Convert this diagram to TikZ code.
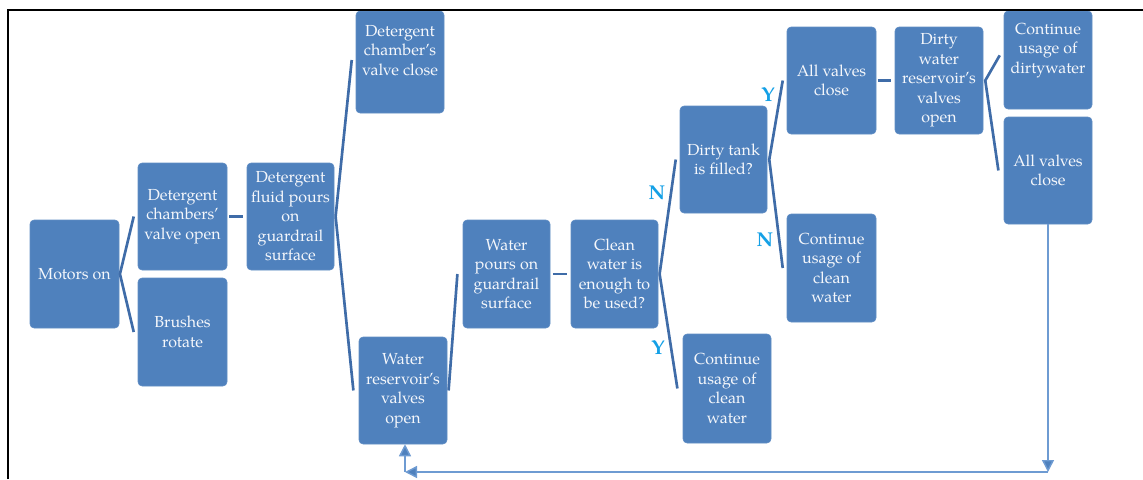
\documentclass[tikz,border=0pt]{standalone}
\usepackage{fontspec}
\setmainfont{TeX Gyre Pagella}
\usetikzlibrary{arrows.meta}
\definecolor{boxblue}{RGB}{79,129,189}
\definecolor{connblue}{RGB}{63,108,168}
\definecolor{lblblue}{RGB}{20,160,230}
\definecolor{fbblue}{RGB}{110,155,210}
\tikzset{
  bx/.style 2 args={rectangle, rounded corners=3pt, fill=boxblue, draw=boxblue!90!white, line width=0.4pt,
    text=white!94!boxblue, align=center, inner sep=0pt,
    font=\fontsize{12}{14.6}\selectfont,
    minimum width=#1*0.75pt, minimum height=#2*0.75pt},
  conn/.style={draw=connblue, line width=2pt},
  dashc/.style={draw=connblue, line width=2.2pt},
  lbl/.style={text=lblblue, font=\fontsize{15}{15}\selectfont\bfseries, inner sep=0pt},
  fb/.style={draw=fbblue, line width=1.1pt, -{Triangle[length=9pt,width=9pt,fill=boxblue]}},
}
\begin{document}
\begin{tikzpicture}[x=0.75pt,y=-0.75pt]
\useasboundingbox (0,0) rectangle (1143,479);
% boxes
\node[bx={89}{108}] (motors) at (74.5,274) {Motors on};
\node[bx={89}{107}] (detopen) at (182.5,216.5) {Detergent\\chambers'\\valve open};
\node[bx={89}{108}] (brushes) at (182.5,332) {Brushes\\rotate};
\node[bx={87}{107}] (detfluid) at (290.5,216.5) {Detergent\\fluid pours\\on\\guardrail\\surface};
\node[bx={88}{102}] (detclose) at (400,62) {Detergent\\chamber's\\valve close\\[3pt]};
\node[bx={88}{107}] (waterres) at (403,390.5) {Water\\reservoir's\\valves\\open};
\node[bx={87}{108}] (waterpours) at (506.5,274) {Water\\pours on\\guardrail\\surface};
\node[bx={87}{108}] (clean) at (614.5,274) {Clean\\water is\\enough to\\be used?};
\node[bx={87}{107}] (dirtytank) at (723.5,159.5) {Dirty tank\\is filled?};
\node[bx={88}{109}] (contclean1) at (727,388.5) {Continue\\usage of\\clean\\water};
\node[bx={89}{107}] (allclose1) at (831.5,80.5) {All valves\\close};
\node[bx={89}{108}] (contclean2) at (831.5,268) {Continue\\usage of\\clean\\water};
\node[bx={88}{107}] (dirtyres) at (939,80.5) {Dirty\\water\\reservoir's\\valves\\open};
\node[bx={88}{98}] (contdirty) at (1048,60) {Continue\\usage of\\dirtywater\\[3pt]};
\node[bx={88}{107}] (allclose2) at (1048,170.5) {All valves\\close};
% branch connectors
\draw[conn] ([xshift=-3pt]detopen.west) -- ([xshift=0.5pt]motors.east) -- ([xshift=-3pt]brushes.west);
\draw[conn] ([xshift=-3pt,yshift=1.5pt]detclose.west) -- ([xshift=1pt]detfluid.east) -- ([xshift=-4pt]waterres.west);
\draw[conn] ([xshift=1pt]waterres.east) -- ([xshift=-4pt]waterpours.west);
\draw[conn] ([xshift=-3pt]dirtytank.west) -- ([xshift=1pt]clean.east) -- ([xshift=-4pt]contclean1.west);
\draw[conn] ([xshift=-3pt]allclose1.west) -- ([xshift=1.5pt]dirtytank.east) -- ([xshift=-3pt]contclean2.west);
\draw[conn] ([xshift=-3pt,yshift=3.5pt]contdirty.west) -- ([xshift=1.5pt]dirtyres.east) -- ([xshift=-4pt]allclose2.west);
% short dashes
\draw[dashc] ([xshift=1.5pt]detopen.east) -- ([xshift=-3pt]detfluid.west);
\draw[dashc] ([xshift=2pt]waterpours.east) -- ([xshift=-3pt]clean.west);
\draw[dashc] ([xshift=1pt]allclose1.east) -- ([xshift=-3pt]dirtyres.west);
% labels
\node[lbl] (n1) at (657,193) {N};
\node[lbl] (y1) at (658,348) {Y};
\node[lbl] (y2) at (768,95) {Y};
\node[lbl] (n2) at (765,240) {N};
% feedback
\coordinate (c1) at (1048,472);
\coordinate (c2) at (405,472);
\draw[fb] (allclose2.south) -- (c1);
\draw[fb] (c1) -- (c2);
\draw[fb] (c2) -- (c2 |- waterres.south);
% frame
\draw[black, line width=1.5pt] (7.5,479) -- (7.5,10) -- (1143,10);
\end{tikzpicture}
\end{document}
